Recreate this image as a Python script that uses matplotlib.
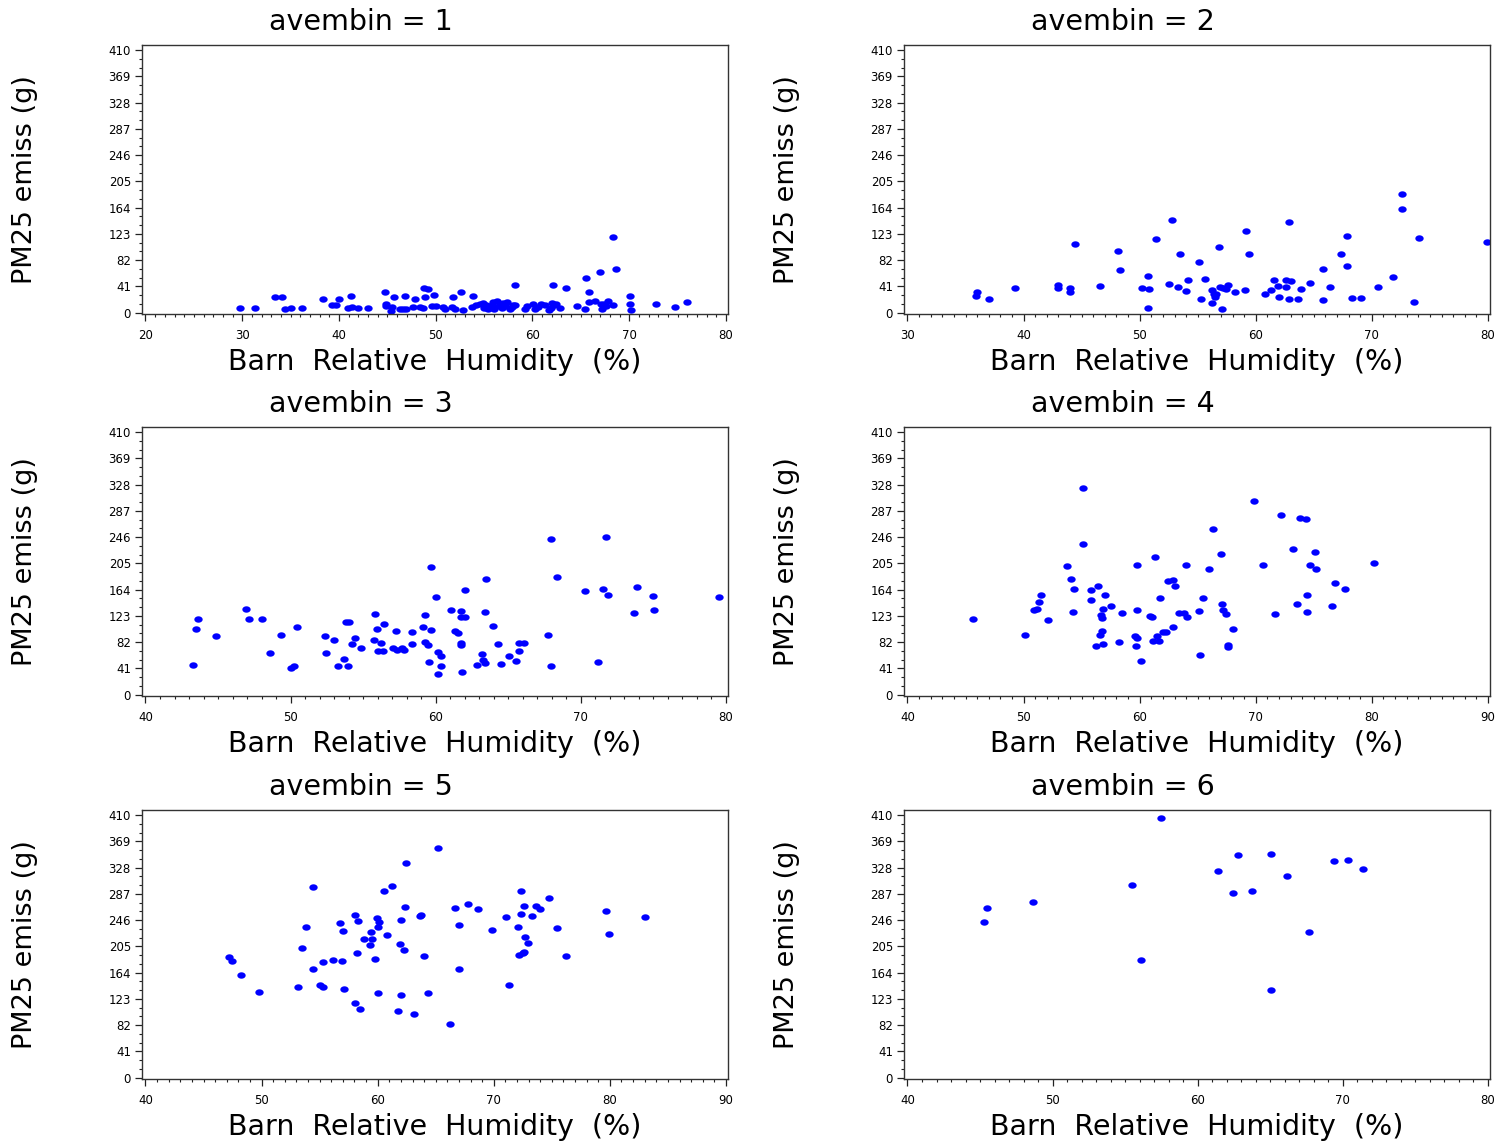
import numpy as np
import matplotlib
matplotlib.use('Agg')
import matplotlib.pyplot as plt
from matplotlib.ticker import MultipleLocator

# ---- data: barn relative humidity (%) vs PM2.5 emissions (g), one pair per avembin
rh1 = [29.8, 31.3, 33.4, 34.1, 34.4, 35.0, 36.2, 38.3, 39.3, 39.7, 40.0, 41.2, 40.9, 41.3,
       42.0, 43.0, 44.8, 44.9, 44.9, 45.4, 45.5, 45.7, 46.3, 46.6, 46.9, 46.8, 47.7, 47.9,
       48.4, 48.7, 48.8, 49.2, 48.9, 49.6, 49.8, 50.0, 50.8, 51.0, 51.8, 51.7, 52.0, 52.6,
       52.8, 53.7, 53.9, 54.6, 54.9, 55.2, 55.4, 55.8, 55.9, 56.3, 56.5, 56.7, 57.0, 57.2,
       57.4, 57.7, 58.0, 58.2, 58.2, 59.2, 59.4, 60.1, 60.3, 60.9, 61.3, 61.7, 62.0, 62.1,
       62.2, 62.8, 63.5, 64.6, 65.4, 65.5, 65.8, 65.8, 66.5, 67.0, 67.1, 67.2, 67.6, 67.8,
       68.3, 68.3, 68.6, 70.1, 70.1, 70.2, 72.8, 74.7, 76.0,
       55.0, 56.0, 56.8, 57.9, 54.2, 61.9, 67.4, 62.4, 60.6]
pm1 = [6.8, 6.8, 24, 24, 5.7, 6.8, 7.3, 21, 12.5, 12.5, 22, 26, 6.8, 9.4,
       7.3, 7.8, 32, 13.6, 10, 2.6, 9.4, 25, 6.3, 5.2, 5.2, 25.6, 8.3, 21,
       9.4, 6.8, 39, 37.6, 24, 10, 28, 10.4, 9.4, 6.3, 24.5, 9.4, 5.2, 32,
       4.2, 9.4, 25.6, 14, 15.6, 11.5, 6.3, 11.5, 16.7, 17.7, 10.4, 13.6, 15.6, 10.4,
       16.7, 6.3, 12.5, 42.8, 11.5, 5.2, 10.4, 13.6, 6.3, 13.6, 12.5, 4.7, 15, 44,
       11.5, 7.3, 38.6, 10, 6.3, 54, 32, 16, 19, 64, 13, 6.3, 10, 17.7,
       12.5, 118, 68, 25.6, 13, 4.2, 13, 8.3, 17.2,
       8, 6, 8, 9, 12, 8, 14, 13, 9]

rh2 = [35.9, 36.0, 37.0, 39.3, 43.0, 43.0, 44.0, 44.0, 44.4, 46.6, 48.1, 48.3, 50.2, 50.7,
       50.8, 50.7, 51.4, 52.5, 52.8, 53.3, 53.5, 54.0, 54.2, 55.1, 55.3, 55.6, 56.2, 56.2,
       56.4, 56.5, 56.6, 56.8, 56.9, 57.1, 57.2, 57.4, 57.6, 58.2, 59.1, 59.2, 59.4, 60.8,
       61.3, 61.6, 61.9, 62.0, 62.6, 62.6, 62.9, 62.9, 63.0, 63.6, 63.9, 64.7, 65.8, 65.8,
       66.4, 67.3, 67.9, 67.9, 68.3, 69.1, 70.5, 71.8, 72.6, 72.6, 73.6, 74.1, 79.9]
pm2 = [26.6, 31.8, 21.4, 39, 43, 38, 38.6, 33, 108, 42, 96.5, 66.8, 38, 56.9,
       37, 6.8, 115, 45, 145.5, 40.7, 91.8, 34, 51.6, 79, 21.4, 53, 36, 15,
       29, 24, 30, 102, 40.7, 6.3, 38, 37.6, 44, 33, 36, 127, 91, 29,
       35, 51.6, 41.7, 25, 39.6, 51, 142, 22, 49, 21, 36.5, 46, 69, 19.8,
       39.6, 92, 120, 73, 23.5, 22.4, 40.7, 55, 186, 162, 17, 117, 110]

rh3 = [43.25, 43.45, 43.64, 44.86, 46.94, 47.14, 48.05, 48.55, 49.35, 50.03, 50.23, 50.44,
       52.34, 52.47, 52.96, 53.25, 53.66, 53.84, 54.0, 53.97, 54.23, 54.44, 54.86, 55.74,
       55.84, 55.92, 56.26, 56.05, 56.36, 56.44, 57.04, 57.35, 57.69, 57.84, 57.25, 58.36,
       58.36, 59.14, 59.25, 59.25, 59.45, 59.64, 59.64, 59.53, 60.05, 60.16, 60.36, 60.36,
       60.16, 61.04, 61.35, 61.56, 61.74, 61.74, 62.05, 61.74, 61.74, 61.84, 62.05, 62.86,
       63.17, 63.27, 63.38, 63.38, 63.45, 63.95, 64.26, 64.47, 65.06, 65.56, 65.77, 65.77,
       66.08, 67.77, 67.95, 67.95, 68.36, 70.26, 71.17, 71.53, 71.74, 71.84, 73.66, 73.87,
       74.94, 75.06, 79.53]
pm3 = [46, 102, 118, 92, 134, 119, 119, 65, 93, 42, 45, 105,
       91, 65, 85, 45, 55, 113, 113, 45, 79, 89, 73, 86,
       126, 102, 81, 68, 68, 110, 73, 70, 73, 70, 100, 98,
       79, 106, 125, 83, 78, 101, 199, 51, 152, 66, 61, 45,
       33, 133, 100, 97, 130, 121, 121, 80, 78, 36, 164, 46,
       63, 54, 50, 129, 181, 108, 79, 48, 60, 52, 69, 81,
       81, 93, 243, 45, 184, 162, 51, 165, 246, 156, 128, 168,
       154, 133, 153]

rh4 = [45.62, 50.10, 50.88, 51.17, 51.30, 51.49, 52.11, 53.70, 54.09, 54.38, 54.29, 55.10,
       55.10, 55.78, 55.78, 56.40, 56.98, 56.88, 56.69, 56.79, 56.72, 56.59, 56.88, 56.20,
       57.50, 58.51, 58.18, 59.77, 59.77, 59.61, 59.77, 59.68, 60.10, 60.88, 61.10, 61.36,
       61.17, 61.46, 61.69, 62.01, 62.31, 61.79, 62.47, 62.89, 63.02, 62.89, 63.38, 63.86,
       64.09, 63.99, 65.10, 65.19, 65.49, 65.97, 66.30, 66.98, 67.08, 67.21, 67.40, 67.63,
       67.60, 68.08, 69.87, 70.65, 71.69, 72.18, 73.18, 73.57, 73.80, 74.29, 74.38, 74.38,
       74.71, 75.10, 75.19, 76.53, 76.79, 77.69, 80.19]
pm4 = [119, 94, 132, 134, 145, 156, 117, 201, 180, 165, 129, 322,
       235, 164, 148, 169, 155, 134, 125, 120, 100, 94, 79, 76,
       139, 127, 83, 202, 132, 91, 89, 76, 52, 123, 122, 215,
       84, 91, 84, 98, 98, 151, 177, 179, 169, 105, 127, 128,
       122, 202, 131, 62, 151, 197, 259, 220, 142, 133, 126, 78,
       74, 103, 302, 203, 126, 281, 227, 141, 276, 275, 156, 129,
       203, 223, 196, 139, 175, 165, 206]

rh5 = [47.21, 47.44, 48.21, 49.81, 53.12, 53.51, 53.83, 54.42, 54.42, 55.0, 55.32, 55.32,
       56.17, 56.72, 56.92, 57.05, 57.14, 58.02, 58.02, 58.31, 58.21, 58.44, 58.80, 59.35,
       59.45, 59.55, 59.74, 59.94, 60.13, 60.03, 60.03, 60.55, 60.84, 61.27, 61.79, 61.95,
       62.05, 62.05, 62.24, 62.34, 62.44, 63.15, 63.64, 63.73, 63.96, 64.32, 65.23, 66.23,
       66.66, 67.01, 67.01, 67.82, 68.64, 69.84, 71.04, 71.27, 72.05, 72.14, 72.34, 72.34,
       72.53, 72.63, 72.63, 72.73, 72.95, 73.25, 73.64, 73.96, 74.77, 75.42, 76.23, 79.64,
       79.94, 83.05]
pm5 = [188, 183, 161, 134, 142, 202, 236, 298, 170, 144, 141, 180,
       184, 241, 182, 229, 139, 254, 116, 245, 195, 108, 216, 207,
       228, 216, 185, 249, 243, 235, 133, 291, 223, 299, 104, 209,
       246, 129, 199, 267, 335, 99, 252, 254, 190, 133, 358, 84,
       265, 239, 170, 271, 263, 231, 251, 144, 235, 192, 292, 255,
       194, 196, 268, 220, 211, 252, 268, 263, 281, 234, 190, 261,
       225, 251]

rh6 = [45.29, 45.47, 48.67, 55.47, 56.07, 57.47, 61.38, 62.46, 62.76, 63.77, 65.06, 65.06,
       66.14, 67.66, 69.36, 70.37, 71.36]
pm6 = [243, 265, 275, 301, 184, 406, 323, 288, 348, 291, 350, 137,
       315, 227, 339, 340, 326]

bins = [1, 2, 3, 4, 5, 6]
rh_data = [rh1, rh2, rh3, rh4, rh5, rh6]
pm_data = [pm1, pm2, pm3, pm4, pm5, pm6]
x_ranges = [(20, 80), (30, 80), (40, 80), (40, 90), (40, 90), (40, 80)]
y_ticks = np.arange(0, 411, 41)

# slightly wide dot, like the SAS symbol
theta = np.linspace(0, 2 * np.pi, 40)
dot = np.column_stack([1.3 * np.cos(theta), np.sin(theta)])

fig = plt.figure(figsize=(14.98, 11.44), dpi=100)
W, H = 1498.0, 1144.0
lefts = [142, 904]
tops = [45, 427, 810]
aw, ah = 586, 269

for i, b in enumerate(bins):
    row, col = divmod(i, 2)
    ax = fig.add_axes([lefts[col] / W, 1 - (tops[row] + ah) / H, aw / W, ah / H])
    ax.plot(rh_data[i], pm_data[i], linestyle='none', marker=dot, markersize=6,
            color='#0000ff', markeredgewidth=0)
    lo, hi = x_ranges[i]
    span = hi - lo
    ax.set_xlim(lo - 0.006 * span, hi + 0.0035 * span)
    ax.set_ylim(-2, 418)
    ax.set_xticks(np.arange(lo, hi + 1, 10))
    ax.xaxis.set_minor_locator(MultipleLocator(1))
    ax.set_yticks(y_ticks)
    ax.set_yticklabels([str(v) for v in y_ticks])
    ax.yaxis.set_minor_locator(MultipleLocator(41 / 3))
    ax.tick_params(which='major', direction='out', length=5, width=0.9, labelsize=8.5,
                   color='#222222')
    ax.tick_params(which='minor', direction='out', length=2.5, width=0.8, color='#222222')
    ax.tick_params(axis='x', pad=6)
    ax.tick_params(axis='y', pad=3)
    for s in ax.spines.values():
        s.set_linewidth(1.0)
        s.set_color('#333333')
    # labels and title
    ax.text(0.374, 1.0855, 'avembin = %d' % b, transform=ax.transAxes,
            ha='center', va='center', fontsize=20.5)
    ax.text(0.5, -0.18, 'Barn  Relative  Humidity  (%)', transform=ax.transAxes,
            ha='center', va='center', fontsize=20.5)
    ax.text(-0.2, 0.5, 'PM25 emiss (g)', transform=ax.transAxes, rotation=90,
            ha='center', va='center', fontsize=19.5)

fig.savefig('out.png', dpi=100)
